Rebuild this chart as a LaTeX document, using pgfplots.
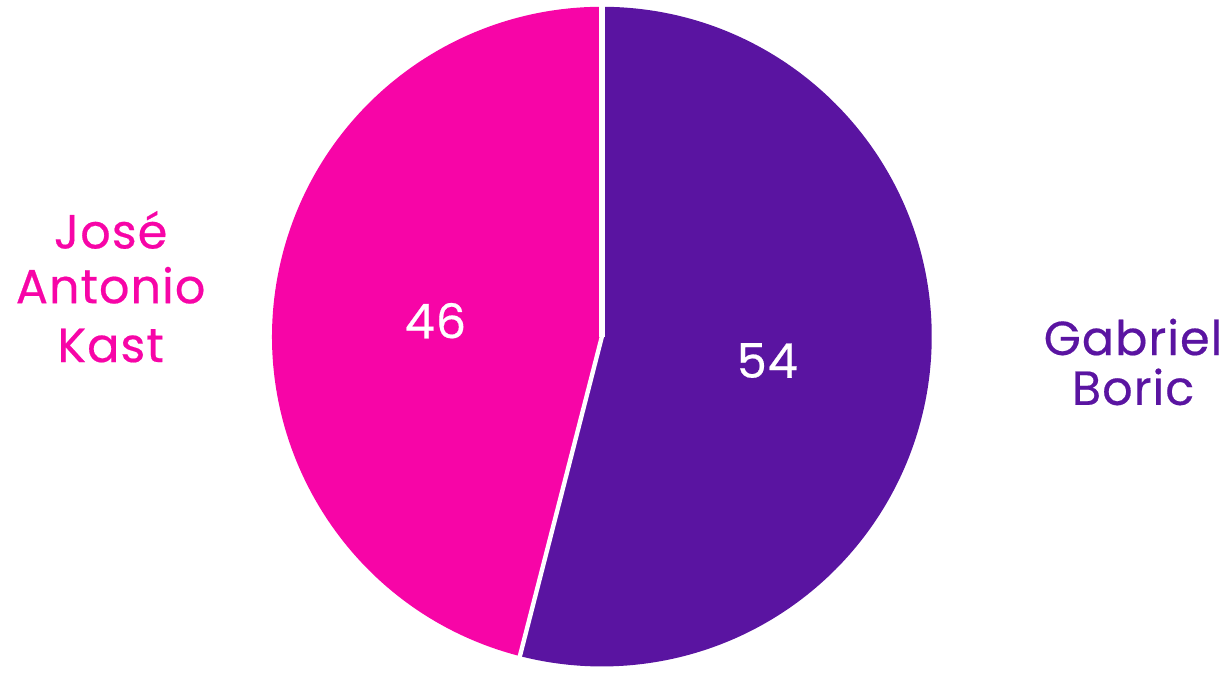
\documentclass[border=0pt]{standalone}
\usepackage{pgfplots}
\pgfplotsset{compat=1.18}
\usepackage{pgfplotstable}
\usepackage{fontspec}
\setmainfont{Poppins}[FakeBold=0.4, LetterSpace=2]
\definecolor{kast}{HTML}{F705A7}
\definecolor{boric}{HTML}{5A14A1}
\pgfplotstableread{
name value
Boric 54
Kast 46
}\votes
\begin{document}
\begin{tikzpicture}
\pgfplotstablegetelem{0}{value}\of\votes \let\vA\pgfplotsretval
\pgfplotstablegetelem{1}{value}\of\votes \let\vB\pgfplotsretval
\pgfmathsetmacro\fracA{\vA/(\vA+\vB)}
\pgfmathsetmacro\angA{90-360*\fracA}
\def\R{165.5pt}
\begin{axis}[
  scale only axis, width=614.5pt, height=332.5pt,
  xmin=0, xmax=1229, ymin=0, ymax=665,
  hide axis, clip=false]
  \addplot[draw=none, forget plot] coordinates {(0,0) (1229,665)};
  % Boric slice
  \fill[boric] (axis cs:604,328.5) -- ++(90:\R) arc[start angle=90, end angle=\angA, radius=\R] -- cycle;
  % Kast slice
  \fill[kast] (axis cs:604,328.5) -- ++(\angA:\R) arc[start angle=\angA, end angle=-270, radius=\R] -- cycle;
  % separators
  \draw[white, line width=2.8pt] (axis cs:604,328.5) -- ++(90:\R+2pt);
  \draw[white, line width=2.2pt] (axis cs:604,328.5) -- ++(\angA:\R+2pt);
  % values
  \node[white, font=\fontsize{24}{28}\selectfont, anchor=center] at (axis cs:437,344.5) {\vB};
  \node[white, font=\fontsize{24}{28}\selectfont, anchor=center] at (axis cs:770,304.5) {\vA};
  % outer labels
  \begin{scope}[every node/.style={kast, font=\fontsize{24}{28}\selectfont, anchor=base}]
    \node at (axis cs:111,417) {José};
    \node at (axis cs:111,362) {Antonio};
    \node at (axis cs:111,303) {Kast};
  \end{scope}
  \begin{scope}[every node/.style={boric, font=\fontsize{24}{28}\selectfont, anchor=base}]
    \node at (axis cs:1137,310) {Gabriel};
    \node at (axis cs:1137,260) {Boric};
  \end{scope}
\end{axis}
\end{tikzpicture}
\end{document}
